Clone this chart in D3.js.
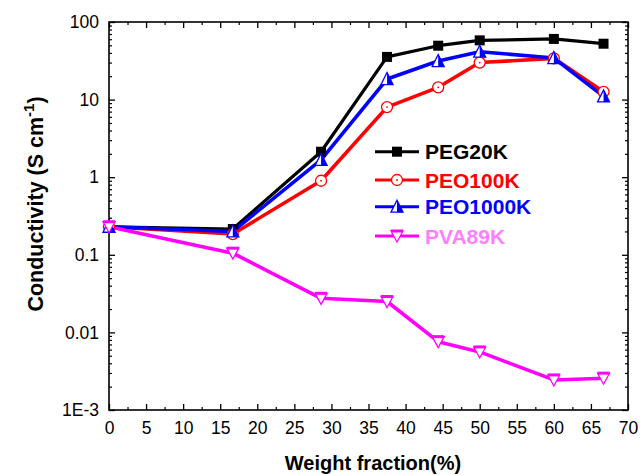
<!DOCTYPE html>
<html>
<head>
<meta charset="utf-8">
<script src="https://cdn.jsdelivr.net/npm/d3@7"></script>
<style>
  html, body { margin: 0; padding: 0; background: #fff; }
  svg { display: block; font-family: Arial, "Liberation Sans", sans-serif; }
</style>
</head>
<body>
<svg id="chart" width="643" height="475"></svg>
<script>
// Weight fraction (%) of each sample
const weightFraction = [0, 16.7, 28.6, 37.5, 44.4, 50, 60, 66.7];

// Conductivity (S cm^-1) for each polymer additive
const peg20k   = [0.23, 0.215, 2.13, 35.5, 49.5, 58, 60.5, 52.5];
const peo100k  = [0.23, 0.185, 0.90, 8.0, 14.4, 30, 34, 12.6];
const peo1000k = [0.23, 0.20, 1.67, 18.4, 31.4, 41.4, 34.3, 11.0];
const pva89k   = [0.23, 0.105, 0.0275, 0.0250, 0.0076, 0.0056, 0.00244, 0.00257];

const seriesNames  = ["PEG20K", "PEO100K", "PEO1000K", "PVA89K"];
const xTickValues  = [0, 5, 10, 15, 20, 25, 30, 35, 40, 45, 50, 55, 60, 65, 70];
const yTickValues  = [0.001, 0.01, 0.1, 1, 10, 100];
const yTickLabels  = ["1E-3", "0.01", "0.1", "1", "10", "100"];

const series = [
  { name: seriesNames[0], values: peg20k,   line: "#000000", text: "#000000", marker: "square" },
  { name: seriesNames[1], values: peo100k,  line: "#ff0000", text: "#ff0000", marker: "circle" },
  { name: seriesNames[2], values: peo1000k, line: "#0000ff", text: "#0000ff", marker: "up" },
  { name: seriesNames[3], values: pva89k,   line: "#ff00ff", text: "#ff80ff", marker: "down" }
];

const svg = d3.select("#chart");
const frame = { left: 109, right: 628, top: 22, bottom: 410 };

const x = d3.scaleLinear().domain([0, 70]).range([frame.left, frame.right]);
const y = d3.scaleLog().domain([0.001, 100]).range([frame.bottom, frame.top]);

// minor ticks
const xMinor = d3.range(0, 70.01, 2.5).filter(v => v % 5 !== 0);
const yMinor = [];
for (let e = -3; e < 2; e++) for (let k = 2; k <= 9; k++) yMinor.push(k * Math.pow(10, e));

const axisG = svg.append("g");
const styleLines = (g, w) => g.selectAll("line").attr("stroke", "#000").attr("stroke-width", w);
const fontFam = "Arial, 'Liberation Sans', sans-serif";

// bottom axis (ticks inward)
axisG.append("g")
  .attr("transform", `translate(0,${frame.bottom})`)
  .call(d3.axisBottom(x).tickValues(xTickValues).tickSize(-6).tickPadding(12).tickFormat(d3.format("d")))
  .call(g => g.select(".domain").remove())
  .call(g => g.selectAll("text").attr("font-size", 17.5).attr("fill", "#000").attr("font-family", fontFam))
  .call(g => styleLines(g, 1.3));
axisG.append("g")
  .attr("transform", `translate(0,${frame.bottom})`)
  .call(d3.axisBottom(x).tickValues(xMinor).tickSize(-3).tickFormat(""))
  .call(g => g.select(".domain").remove())
  .call(g => styleLines(g, 1.2));

// top axis (ticks inward, no labels)
axisG.append("g")
  .attr("transform", `translate(0,${frame.top})`)
  .call(d3.axisTop(x).tickValues(xTickValues).tickSize(-6).tickFormat(""))
  .call(g => g.select(".domain").remove())
  .call(g => styleLines(g, 1.3));
axisG.append("g")
  .attr("transform", `translate(0,${frame.top})`)
  .call(d3.axisTop(x).tickValues(xMinor).tickSize(-3).tickFormat(""))
  .call(g => g.select(".domain").remove())
  .call(g => styleLines(g, 1.2));

// left axis
axisG.append("g")
  .attr("transform", `translate(${frame.left},0)`)
  .call(d3.axisLeft(y).tickValues(yTickValues).tickSize(-6).tickPadding(10)
    .tickFormat((d, i) => yTickLabels[i]))
  .call(g => g.select(".domain").remove())
  .call(g => g.selectAll("text").attr("font-size", 17.5).attr("fill", "#000").attr("font-family", fontFam))
  .call(g => styleLines(g, 1.3));
axisG.append("g")
  .attr("transform", `translate(${frame.left},0)`)
  .call(d3.axisLeft(y).tickValues(yMinor).tickSize(-3).tickFormat(""))
  .call(g => g.select(".domain").remove())
  .call(g => styleLines(g, 1.2));

// right axis
axisG.append("g")
  .attr("transform", `translate(${frame.right},0)`)
  .call(d3.axisRight(y).tickValues(yTickValues).tickSize(-6).tickFormat(""))
  .call(g => g.select(".domain").remove())
  .call(g => styleLines(g, 1.3));
axisG.append("g")
  .attr("transform", `translate(${frame.right},0)`)
  .call(d3.axisRight(y).tickValues(yMinor).tickSize(-3).tickFormat(""))
  .call(g => g.select(".domain").remove())
  .call(g => styleLines(g, 1.2));

// frame
svg.append("rect")
  .attr("x", frame.left).attr("y", frame.top)
  .attr("width", frame.right - frame.left).attr("height", frame.bottom - frame.top)
  .attr("fill", "none").attr("stroke", "#000").attr("stroke-width", 1.6);

// marker drawing
function drawMarker(g, type, color, cx, cy) {
  if (type === "square") {
    g.append("rect").attr("x", cx - 5).attr("y", cy - 5).attr("width", 10).attr("height", 10)
      .attr("fill", color);
  } else if (type === "circle") {
    g.append("circle").attr("cx", cx).attr("cy", cy).attr("r", 5.5)
      .attr("fill", "#fff").attr("stroke", color).attr("stroke-width", 1.3);
    g.append("circle").attr("cx", cx).attr("cy", cy).attr("r", 0.9).attr("fill", color);
  } else if (type === "up") {
    const h = 11, w = 12;
    g.append("path")
      .attr("d", `M${cx},${cy - h / 2 - 1}L${cx + w / 2},${cy + h / 2}L${cx - w / 2},${cy + h / 2}Z`)
      .attr("fill", "#fff").attr("stroke", color).attr("stroke-width", 1.3);
    g.append("path")
      .attr("d", `M${cx},${cy - h / 2 - 1}L${cx + w / 2},${cy + h / 2}L${cx},${cy + h / 2}Z`)
      .attr("fill", color);
  } else if (type === "down") {
    const h = 10, w = 12;
    g.append("path")
      .attr("d", `M${cx - w / 2},${cy - h / 2}L${cx + w / 2},${cy - h / 2}L${cx},${cy + h / 2 + 1}Z`)
      .attr("fill", "#fff").attr("stroke", color).attr("stroke-width", 1.3);
    g.append("rect").attr("x", cx - w / 2).attr("y", cy - h / 2 - 1.5).attr("width", w).attr("height", 3)
      .attr("fill", color);
  }
}

const line = d3.line().x(d => x(d[0])).y(d => y(d[1]));
const plotG = svg.append("g");

series.forEach(s => {
  const pts = weightFraction.map((w, i) => [w, s.values[i]]);
  plotG.append("path")
    .datum(pts)
    .attr("d", line)
    .attr("fill", "none")
    .attr("stroke", s.line)
    .attr("stroke-width", s.marker === "square" ? 3.2 : 3.6)
    .attr("stroke-linejoin", "round");
});
series.forEach(s => {
  const mg = plotG.append("g");
  weightFraction.forEach((w, i) => drawMarker(mg, s.marker, s.line, x(w), y(s.values[i])));
});

// legend
const legendRows = [151.7, 180, 206.7, 236];
const legend = svg.append("g");
series.forEach((s, i) => {
  const ly = legendRows[i];
  legend.append("line").attr("x1", 375).attr("x2", 419).attr("y1", ly).attr("y2", ly)
    .attr("stroke", s.line).attr("stroke-width", 3);
  drawMarker(legend, s.marker, s.line, 397, ly);
  legend.append("text").attr("x", 425).attr("y", ly + 7.5)
    .attr("font-size", 21).attr("font-weight", "bold").attr("fill", s.text)
    .text(s.name);
});

// axis titles
svg.append("text")
  .attr("x", 373).attr("y", 470)
  .attr("text-anchor", "middle")
  .attr("font-size", 20).attr("font-weight", "bold")
  .text("Weight fraction(%)");

const yTitle = svg.append("text")
  .attr("transform", "translate(43,204) rotate(-90)")
  .attr("text-anchor", "middle")
  .attr("font-size", 21.5).attr("font-weight", "bold");
yTitle.append("tspan").text("Conductivity (S cm");
yTitle.append("tspan").attr("dy", -9).attr("font-size", 15).text("-1");
yTitle.append("tspan").attr("dy", 9).text(")");
</script>
</body>
</html>
